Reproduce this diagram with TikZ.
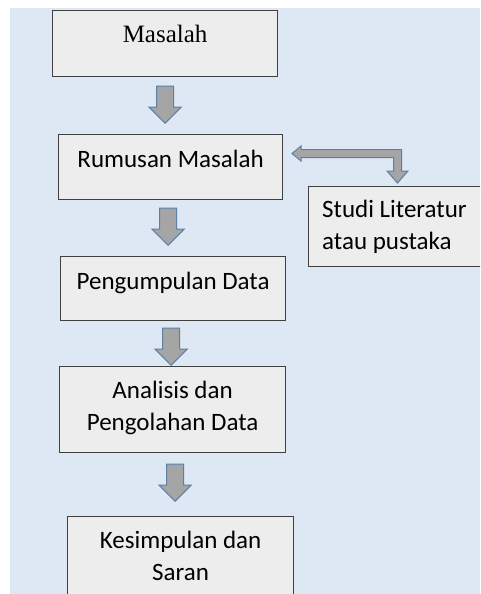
\documentclass[tikz,border=0pt]{standalone}
\usepackage{fontspec}
\setmainfont{Carlito}
\newfontfamily\timesfont{Liberation Serif}
\usepackage{tikz}
\usetikzlibrary{calc,positioning}
\definecolor{bgblue}{HTML}{DEE8F5}
\definecolor{boxgray}{HTML}{EDEDED}
\definecolor{boxline}{HTML}{404040}
\definecolor{arrfill}{HTML}{A5A5A5}
\definecolor{arrline}{HTML}{5B7FA5}
\tikzset{
  stepbox/.style={draw=boxline, fill=boxgray, line width=1.2pt, rectangle, anchor=north west, inner sep=0pt},
  boxtext/.style={font=\fontsize{25}{32}\selectfont, inner sep=0pt, anchor=base, align=center},
  blockarr/.style={fill=arrfill, draw=arrline, line width=1pt, line join=miter},
  downarr/.pic={\filldraw[blockarr] (-8.5,0) -- (8.5,0) -- (8.5,21) -- (16,21) -- (0,37) -- (-16,21) -- (-8.5,21) -- cycle;}
}
\begin{document}
\begin{tikzpicture}[x=1pt,y=-1pt]
        \useasboundingbox (0,0) rectangle (480,594);
        \clip (0,0) rectangle (480,594);
        %Background
        \fill[white] (0,0) rectangle (480,594);
        \fill[bgblue] (10,8) rectangle (480,594);
        %Draw boxes
        \node[stepbox, minimum width=225pt, minimum height=66pt] (masalah) at (52,10) {};
        \node[stepbox, minimum width=224pt, minimum height=65pt] (rumusan) at (58,134) {};
        \node[stepbox, minimum width=190pt, minimum height=80pt] (studi) at (308,186) {};
        \node[stepbox, minimum width=225pt, minimum height=64pt] (kumpul) at (60,256) {};
        \node[stepbox, minimum width=226pt, minimum height=86pt] (analisis) at (59,366) {};
        \node[stepbox, minimum width=226pt, minimum height=95pt] (simpul) at (67,516) {};
        %Draw labels
        \node[boxtext, font=\timesfont\fontsize{25}{32}\selectfont] (tmasalah) at ([yshift=-33pt]masalah.north) {Masalah};
        \node[boxtext] (trumusan) at ([yshift=-33pt]rumusan.north) {Rumusan Masalah};
        \node[boxtext, align=left, anchor=base west] (tstudi) at ([xshift=14pt,yshift=-63pt]studi.north west) {Studi Literatur\\atau pustaka};
        \node[boxtext] (tkumpul) at ([yshift=-33pt]kumpul.north) {Pengumpulan Data};
        \node[boxtext] (tanalisis) at ([yshift=-64pt]analisis.north) {Analisis dan\\Pengolahan Data};
        \node[boxtext] (tsimpul) at ([yshift=-64pt]simpul.north) {Kesimpulan dan\\Saran};
        %Draw arrows
        \pic at ([yshift=-9pt]masalah.south) {downarr};
        \pic at ([xshift=-2.5pt,yshift=-8pt]rumusan.south) {downarr};
        \pic at ([xshift=-2pt,yshift=-7pt]kumpul.south) {downarr};
        \pic at ([xshift=2.5pt,yshift=-11pt]analisis.south) {downarr};
        \filldraw[blockarr] (292,153.5) -- (301,146) -- (301,149.5) -- (401.5,149.5) -- (401.5,171)
          -- (408,171) -- (397.5,183) -- (387,171) -- (393.5,171) -- (393.5,157.5) -- (301,157.5)
          -- (301,161) -- cycle;
\end{tikzpicture}
\end{document}
